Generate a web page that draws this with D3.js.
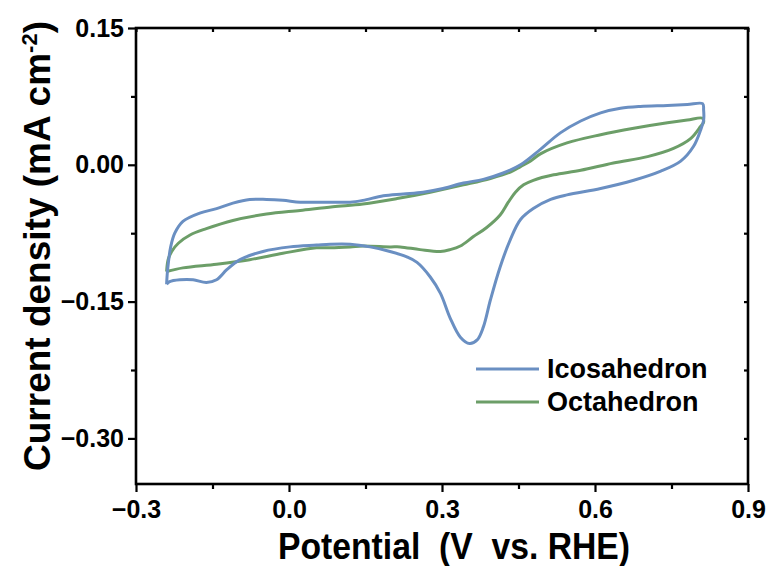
<!DOCTYPE html>
<html>
<head>
<meta charset="utf-8">
<script src="https://cdn.jsdelivr.net/npm/d3@7"></script>
<style>
  body { margin: 0; background: #fff; }
  svg { display: block; font-family: "Liberation Sans", Arial, sans-serif; font-weight: bold; }
</style>
</head>
<body>
<svg id="chart" width="771" height="566"></svg>
<script>
// CV curves (potential in V vs RHE, current density in mA cm-2)
var seriesNames = ["Icosahedron", "Octahedron"];
var seriesColors = ["#6a8fc2", "#6c9e68"];

var icosaPotential = [-0.240, -0.238, -0.232, -0.224, -0.208, -0.175, -0.142, -0.110, -0.077, -0.044,
    -0.012, 0.022, 0.054, 0.086, 0.120, 0.145, 0.185, 0.224, 0.263, 0.302, 0.342, 0.381, 0.420, 0.454,
    0.493, 0.532, 0.572, 0.611, 0.650, 0.689, 0.742, 0.781, 0.811, 0.813, 0.813,
    0.807, 0.793, 0.768, 0.729, 0.676, 0.611, 0.545, 0.513, 0.479, 0.454, 0.434, 0.414, 0.395, 0.381,
    0.369, 0.354, 0.336, 0.316, 0.297, 0.277, 0.251, 0.231, 0.198, 0.159, 0.120, 0.081, 0.054, 0.002,
    -0.051, -0.096, -0.122, -0.142, -0.162, -0.188, -0.214, -0.234, -0.240];
var icosaCurrent = [-0.131, -0.115, -0.090, -0.075, -0.062, -0.053, -0.048, -0.042, -0.038, -0.038,
    -0.039, -0.041, -0.041, -0.041, -0.041, -0.039, -0.034, -0.032, -0.030, -0.026, -0.020, -0.016, -0.009, 0.000,
    0.017, 0.035, 0.048, 0.057, 0.062, 0.064, 0.065, 0.066, 0.067, 0.060, 0.049,
    0.038, 0.020, 0.004, -0.007, -0.017, -0.026, -0.033, -0.038, -0.048, -0.060, -0.082, -0.112, -0.148, -0.178,
    -0.192, -0.196, -0.189, -0.168, -0.141, -0.123, -0.107, -0.101, -0.095, -0.090, -0.087, -0.087, -0.088, -0.090,
    -0.095, -0.104, -0.115, -0.126, -0.129, -0.126, -0.126, -0.128, -0.131];

var octaPotential = [-0.240, -0.237, -0.230, -0.217, -0.194, -0.162, -0.110, -0.044, 0.022, 0.086,
    0.145, 0.212, 0.277, 0.342, 0.395, 0.434, 0.454, 0.473, 0.493, 0.545, 0.611, 0.676, 0.742, 0.781, 0.811,
    0.813, 0.807, 0.788, 0.754, 0.703, 0.636, 0.572, 0.519, 0.479, 0.460, 0.444, 0.430, 0.414, 0.387, 0.361,
    0.336, 0.316, 0.297, 0.257, 0.218, 0.198, 0.145, 0.120, 0.081, 0.054, -0.012, -0.077, -0.142, -0.208, -0.240];
var octaCurrent = [-0.117, -0.104, -0.095, -0.086, -0.077, -0.070, -0.061, -0.054, -0.050, -0.046,
    -0.043, -0.037, -0.030, -0.022, -0.015, -0.008, -0.002, 0.004, 0.012, 0.024, 0.033, 0.040, 0.046, 0.049, 0.051,
    0.047, 0.042, 0.029, 0.018, 0.009, 0.002, -0.006, -0.011, -0.017, -0.022, -0.030, -0.041, -0.055, -0.069, -0.079,
    -0.089, -0.093, -0.095, -0.093, -0.090, -0.090, -0.089, -0.090, -0.091, -0.091, -0.097, -0.104, -0.109, -0.113, -0.117];

var xTicks = [-0.3, 0.0, 0.3, 0.6, 0.9];
var xMinor = [-0.15, 0.15, 0.45, 0.75];
var yTicks = [0.15, 0.00, -0.15, -0.30];
var yMinor = [0.075, -0.075, -0.225];

var svg = d3.select("svg#chart");
var margin = {top: 28, right: 23, bottom: 82, left: 136};
var width = 771 - margin.left - margin.right;
var height = 566 - margin.top - margin.bottom;

var x = d3.scaleLinear().domain([-0.3, 0.9]).range([margin.left, margin.left + width]);
var y = d3.scaleLinear().domain([-0.35, 0.15]).range([margin.top + height, margin.top]);

function toPoints(vs, js) {
    return vs.map(function(v, i) { return [v, js[i]]; });
}
var series = [toPoints(icosaPotential, icosaCurrent), toPoints(octaPotential, octaCurrent)];

var line = d3.line()
    .x(function(d) { return x(d[0]); })
    .y(function(d) { return y(d[1]); })
    .curve(d3.curveCatmullRom.alpha(0.5));

// octahedron drawn first, icosahedron on top
[1, 0].forEach(function(i) {
    svg.append("path")
        .datum(series[i])
        .attr("fill", "none")
        .attr("stroke", seriesColors[i])
        .attr("stroke-width", 3)
        .attr("stroke-linejoin", "round")
        .attr("d", line);
});

// axes
var fmtX = d3.format(".1f");
var fmtY = d3.format(".2f");

function styleAxis(g) {
    g.select(".domain").remove();
    g.selectAll(".tick line").attr("stroke", "#000").attr("stroke-width", 2.2);
    g.selectAll(".tick text").attr("fill", "#000").style("font-size", "25px").style("font-weight", "bold");
}

svg.append("g").attr("transform", "translate(0," + (margin.top + height) + ")")
    .call(d3.axisBottom(x).tickValues(xTicks).tickSize(8).tickPadding(8).tickFormat(function(d) { return d === 0 ? "0.0" : fmtX(d); }))
    .call(styleAxis);
svg.append("g").attr("transform", "translate(0," + (margin.top + height) + ")")
    .call(d3.axisBottom(x).tickValues(xMinor).tickSize(5).tickFormat(""))
    .call(styleAxis);

svg.append("g").attr("transform", "translate(" + margin.left + ",0)")
    .call(d3.axisLeft(y).tickValues(yTicks).tickSize(8).tickPadding(4).tickFormat(function(d) { return d === 0 ? "0.00" : fmtY(d); }))
    .call(styleAxis);
svg.append("g").attr("transform", "translate(" + margin.left + ",0)")
    .call(d3.axisLeft(y).tickValues(yMinor).tickSize(5).tickFormat(""))
    .call(styleAxis);

svg.append("g").attr("transform", "translate(0," + margin.top + ")")
    .call(d3.axisTop(x).tickValues(xTicks.concat(xMinor)).tickSize(-4).tickFormat(""))
    .call(styleAxis);
svg.append("g").attr("transform", "translate(" + (margin.left + width) + ",0)")
    .call(d3.axisRight(y).tickValues(yTicks.concat(yMinor)).tickSize(-4).tickFormat(""))
    .call(styleAxis);

svg.append("rect")
    .attr("x", margin.left).attr("y", margin.top)
    .attr("width", width).attr("height", height)
    .attr("fill", "none").attr("stroke", "#000").attr("stroke-width", 2.6);

// axis titles
svg.append("text")
    .attr("x", 454).attr("y", 559)
    .attr("text-anchor", "middle")
    .attr("textLength", 352).attr("lengthAdjust", "spacingAndGlyphs")
    .style("font-size", "37px")
    .style("white-space", "pre")
    .text("Potential  (V  vs. RHE)");

var yTitle = svg.append("text")
    .attr("transform", "translate(50,246) rotate(-90)")
    .attr("text-anchor", "middle")
    .style("font-size", "37px");
yTitle.append("tspan").text("Current density (mA cm");
yTitle.append("tspan").attr("dy", -13).style("font-size", "22px").text("-2");
yTitle.append("tspan").attr("dy", 13).text(")");

// legend
var legend = svg.append("g");
seriesNames.forEach(function(name, i) {
    var ly = 369 + i * 33;
    legend.append("line")
        .attr("x1", 476).attr("x2", 539).attr("y1", ly).attr("y2", ly)
        .attr("stroke", seriesColors[i]).attr("stroke-width", 3);
    legend.append("text")
        .attr("x", 547).attr("y", ly + 8.5)
        .style("font-size", "27px")
        .text(name);
});
</script>
</body>
</html>
